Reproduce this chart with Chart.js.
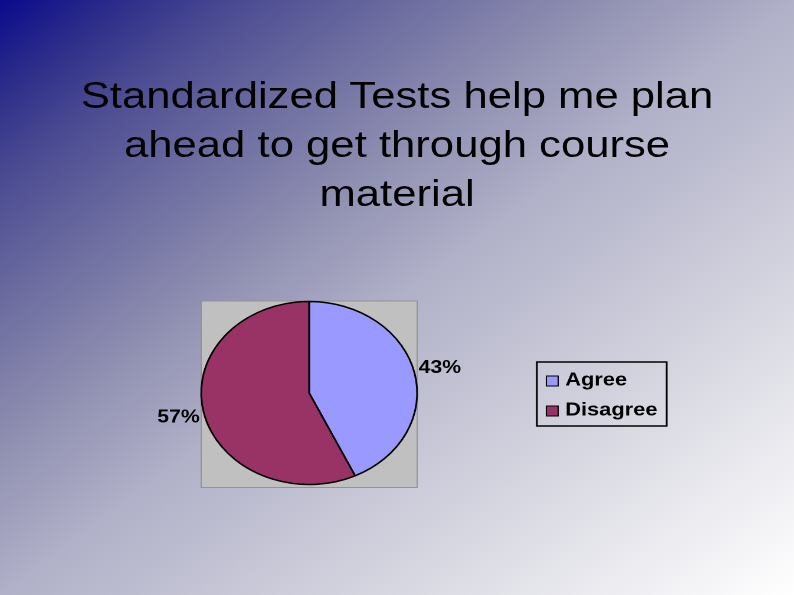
<!DOCTYPE html>
<html>
<head>
<meta charset="utf-8">
<script src="https://cdn.jsdelivr.net/npm/chart.js@4/dist/chart.umd.min.js"></script>
<style>
  html, body { margin: 0; padding: 0; }
  body {
    width: 794px; height: 595px; overflow: hidden;
    background: linear-gradient(to bottom right, #0a0a8c 0%, #2e2e8a 8%, #4a4a92 15%, #6a6a9f 25%, #9090b2 38%, #b0b0c8 50%, #d8d8e2 75%, #ffffff 100%);
  }
  /* the slide is stretched sideways, text and pie alike */
  #stage {
    position: absolute; left: 0; top: 0;
    width: 673px; height: 595px;
    transform: scaleX(1.18); transform-origin: 0 0;
  }
  #title {
    position: absolute; left: 0; top: 71px; width: 673px;
    font-family: "Liberation Sans", Arial, sans-serif;
    font-size: 37px; line-height: 49px; text-align: center; color: #000;
  }
  #myChart { position: absolute; left: 0; top: 0; }
</style>
</head>
<body>
<div id="stage">
  <div id="title"></div>
  <canvas id="myChart" width="673" height="595"></canvas>
</div>
<script>
const titleLines = ['Standardized Tests help me plan', 'ahead to get through course', 'material'];
const labels = ['Agree', 'Disagree'];
const values = [43, 57];
const colors = ['#9999FF', '#993366'];

document.getElementById('title').innerHTML = titleLines.join('<br>');

const FONT = '"Liberation Sans", Arial, sans-serif';

// gray plot area behind the pie
const plotBox = {
    id: 'plotBox',
    beforeDatasetsDraw(chart) {
        const arc = chart.getDatasetMeta(0).data[0];
        const r = arc.outerRadius;
        const c = chart.ctx;
        c.save();
        c.fillStyle = '#C0C0C0';
        c.strokeStyle = '#939393';
        c.lineWidth = 1;
        c.fillRect(arc.x - r, arc.y - r - 0.5, 2 * r, 2 * r + 3.5);
        c.strokeRect(arc.x - r, arc.y - r - 0.5, 2 * r, 2 * r + 3.5);
        c.restore();
    }
};

// percent labels outside the slices
const pctLabels = {
    id: 'pctLabels',
    afterDatasetsDraw(chart) {
        const meta = chart.getDatasetMeta(0);
        const total = values.reduce((a, b) => a + b, 0);
        const c = chart.ctx;
        c.save();
        c.font = 'bold 18px ' + FONT;
        c.fillStyle = '#000';
        c.textAlign = 'center';
        c.textBaseline = 'middle';
        meta.data.forEach((arc, i) => {
            const mid = (arc.startAngle + arc.endAngle) / 2;
            const d = arc.outerRadius + 22;
            const txt = Math.round(values[i] / total * 100) + '%';
            c.fillText(txt, arc.x + d * Math.cos(mid), arc.y + d * Math.sin(mid));
        });
        c.restore();
    }
};

// boxed legend on the right
const boxLegend = {
    id: 'boxLegend',
    afterDraw(chart) {
        const c = chart.ctx;
        const x = 455, y = 362, w = 110, h = 64;
        c.save();
        c.strokeStyle = '#000';
        c.lineWidth = 1.5;
        c.strokeRect(x, y, w, h);
        c.font = 'bold 18.5px ' + FONT;
        c.textAlign = 'left';
        c.textBaseline = 'alphabetic';
        labels.forEach((lab, i) => {
            const rowY = 381 + i * 30;
            c.fillStyle = colors[i];
            c.fillRect(x + 8, rowY - 5, 10, 10);
            c.lineWidth = 1;
            c.strokeRect(x + 8, rowY - 5, 10, 10);
            c.fillStyle = '#000';
            c.fillText(lab, x + 24, rowY + 4.5);
        });
        c.restore();
    }
};

var ctx = document.getElementById('myChart').getContext('2d');
var myChart = new Chart(ctx, {
    type: 'pie',
    data: {
        labels: labels,
        datasets: [{
            data: values,
            backgroundColor: colors,
            borderColor: '#000',
            borderWidth: 1.5
        }]
    },
    options: {
        responsive: false,
        devicePixelRatio: 2,
        animation: false,
        radius: 91.5,
        layout: {
            padding: { left: 0, right: 149, top: 210, bottom: 19 }
        },
        plugins: {
            legend: { display: false },
            tooltip: { enabled: false }
        }
    },
    plugins: [plotBox, pctLabels, boxLegend]
});
</script>
</body>
</html>
